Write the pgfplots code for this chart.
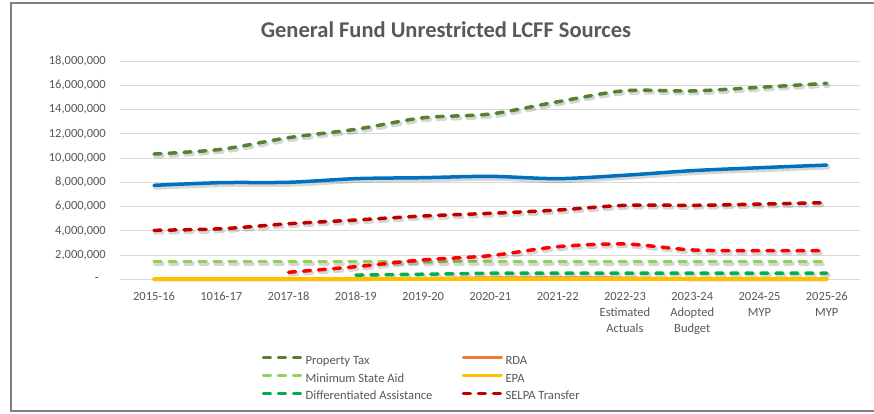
\documentclass[border=0pt]{standalone}
\usepackage{pgfplots}
\pgfplotsset{compat=1.18}
\usepackage{fontspec}
\setmainfont{Carlito}
\definecolor{ptax}{HTML}{548235}
\definecolor{msa}{HTML}{92D050}
\definecolor{diffa}{HTML}{00B050}
\definecolor{rda}{HTML}{ED7D31}
\definecolor{epa}{HTML}{FFC000}
\definecolor{selpa}{HTML}{C00000}
\definecolor{brred}{HTML}{FF0000}
\definecolor{blu}{HTML}{0070C0}
\definecolor{txt}{HTML}{595959}
\definecolor{gridc}{HTML}{D9D9D9}
\definecolor{frame}{HTML}{808080}
\begin{document}
\begin{tikzpicture}[x=1pt,y=1pt]
\useasboundingbox (-120.4,-133.7) rectangle (753.6,279.3);
\fill[white] (-120.4,-133.7) rectangle (753.6,279.3);
\draw[frame, line width=1.2pt] (760,276.3) -- (-109.4,276.3) -- (-109.4,-131.7) -- (760,-131.7);
\node[font=\fontsize{22.5}{26}\selectfont\bfseries, text=txt] at (325.6,249.3) {General Fund Unrestricted LCFF Sources};
\begin{axis}[
  at={(0,0)}, anchor=south west, scale only axis,
  width=740pt, height=218.3pt,
  xmin=-0.5, xmax=10.5, ymin=0, ymax=18000000,
  clip=false,
  axis line style={draw=none}, tick style={draw=none},
  major tick length=0pt,
  ymajorgrids, grid style={gridc, line width=0.9pt},
  scaled y ticks=false,
  ytick={0,2000000,4000000,6000000,8000000,10000000,12000000,14000000,16000000,18000000},
  yticklabels={{-\hspace*{7pt}},{2,000,000},{4,000,000},{6,000,000},{8,000,000},{10,000,000},{12,000,000},{14,000,000},{16,000,000},{18,000,000}},
  yticklabel style={font=\fontsize{12.5}{14}\selectfont, text=txt, anchor=east, inner sep=0pt, xshift=-14.4pt},
  xtick={0,...,10},
  xticklabels={2015-16,1016-17,2017-18,2018-19,2019-20,2020-21,2021-22,{2022-23\\Estimated\\Actuals},{2023-24\\Adopted\\Budget},{2024-25\\MYP},{2025-26\\MYP}},
  xticklabel style={font=\fontsize{12.5}{16.3}\selectfont, text=txt, align=center, anchor=north, inner sep=0pt, yshift=-12.6pt},
  legend columns=2,
  legend cell align=left,
  legend image code/.code={\draw[#1] (0pt,3.6pt) -- (38pt,3.6pt);},
  legend style={draw=none, fill=none, inner sep=0pt, outer sep=0pt,
    at={(axis description cs:0.191,-0.348)}, anchor=north west,
    font=\fontsize{12.6}{14}\selectfont, text=txt,
    nodes={inner sep=0pt, text height=9pt, text depth=3pt},
    row sep=5.8pt,
    /tikz/every odd column/.append style={column sep=2.4pt}},
  shad/.style={preaction={draw=black, opacity=0.16, line width=4.5pt, transform canvas={shift={(1.5pt,-2.2pt)}}}},
  dsh/.style={line width=3.5pt, line cap=round, dash pattern=on 7pt off 8pt},
  sol/.style={line width=3.5pt, line cap=round},
]
\addplot[ptax, dsh, smooth, shad, forget plot] coordinates {(0,10330000)(1,10720000)(2,11680000)(3,12370000)(4,13320000)(5,13630000)(6,14640000)(7,15550000)(8,15530000)(9,15830000)(10,16160000)};
\addplot[msa, dsh, smooth, shad, forget plot] coordinates {(0,1450000)(1,1450000)(2,1450000)(3,1450000)(4,1450000)(5,1450000)(6,1450000)(7,1450000)(8,1450000)(9,1450000)(10,1450000)};
\addplot[diffa, dsh, smooth, shad, forget plot] coordinates {(3,350000)(4,420000)(5,500000)(6,500000)(7,500000)(8,500000)(9,500000)(10,500000)};
\addplot[rda, sol, smooth, forget plot] coordinates {(0,0)(1,0)(2,0)(3,0)(4,30000)(5,100000)(6,100000)(7,80000)(8,0)(9,0)(10,0)};
\addplot[epa, sol, smooth, forget plot] coordinates {(0,15000)(1,15000)(2,15000)(3,15000)(4,15000)(5,15000)(6,15000)(7,15000)(8,15000)(9,15000)(10,15000)};
\addplot[selpa, dsh, smooth, shad, forget plot] coordinates {(0,4040000)(1,4170000)(2,4580000)(3,4890000)(4,5220000)(5,5440000)(6,5710000)(7,6100000)(8,6100000)(9,6200000)(10,6320000)};
\addplot[brred, dsh, smooth, shad, forget plot] coordinates {(2,580000)(3,1040000)(4,1600000)(5,1950000)(6,2690000)(7,2910000)(8,2420000)(9,2360000)(10,2360000)};
\addplot[blu, sol, smooth, shad, forget plot] coordinates {(0,7750000)(1,7970000)(2,8000000)(3,8300000)(4,8380000)(5,8490000)(6,8300000)(7,8580000)(8,8960000)(9,9200000)(10,9420000)};
\addlegendimage{ptax, dsh}
\addlegendentry{\makebox[156pt][l]{Property Tax}}
\addlegendimage{rda, sol}
\addlegendentry{RDA}
\addlegendimage{msa, dsh}
\addlegendentry{\makebox[156pt][l]{Minimum State Aid}}
\addlegendimage{epa, sol}
\addlegendentry{EPA}
\addlegendimage{diffa, dsh}
\addlegendentry{\makebox[156pt][l]{Differentiated Assistance}}
\addlegendimage{selpa, dsh}
\addlegendentry{SELPA Transfer}
\end{axis}
\end{tikzpicture}
\end{document}
